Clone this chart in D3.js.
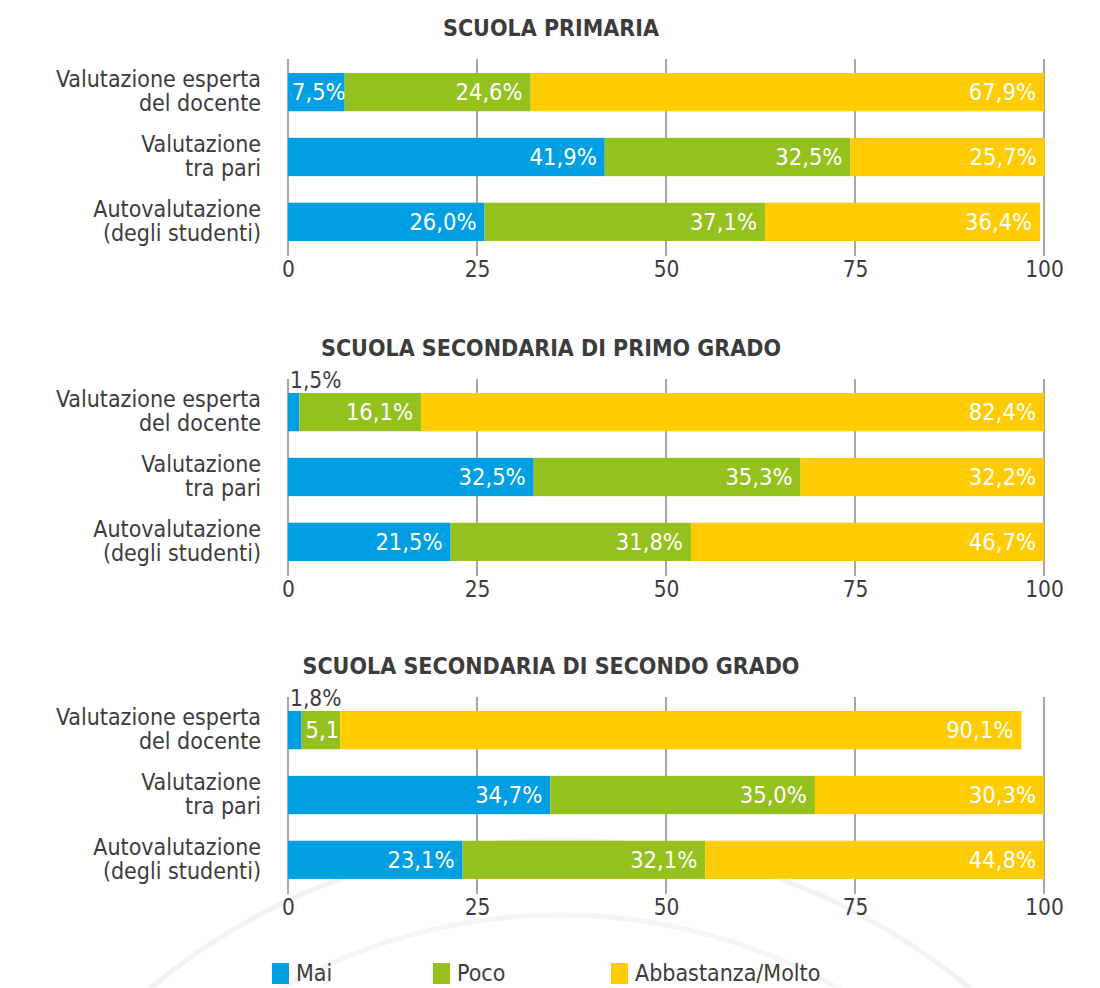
<!DOCTYPE html>
<html><head><meta charset="utf-8">
<script src="https://cdn.jsdelivr.net/npm/d3@7"></script>
<style>
body{margin:0;background:#fff;}
svg{display:block;}
text{font-family:"DejaVu Sans Condensed","DejaVu Sans",sans-serif;}
</style></head>
<body>
<svg id="chart" width="1100" height="988"></svg>
<script>
const panelTitles = ["SCUOLA PRIMARIA", "SCUOLA SECONDARIA DI PRIMO GRADO", "SCUOLA SECONDARIA DI SECONDO GRADO"];
const categories = [["Valutazione esperta","del docente"],["Valutazione","tra pari"],["Autovalutazione","(degli studenti)"]];
const seriesNames = ["Mai","Poco","Abbastanza/Molto"];
const colors = ["#009FE3","#95C11F","#FECC00"];
const maiValues   = [[7.5,41.9,26.0],[1.5,32.5,21.5],[1.8,34.7,23.1]];
const pocoValues  = [[24.6,32.5,37.1],[16.1,35.3,31.8],[5.1,35.0,32.1]];
const moltoValues = [[67.9,25.7,36.4],[82.4,32.2,46.7],[90.1,30.3,44.8]];
const tickValues = [0,25,50,75,100];

const svg = d3.select("#chart");
const textColor = "#3c3c3c";
const x = d3.scaleLinear().domain([0,100]).range([288,1044]);
const panelOffsets = [0,320,638];
const fmt = v => d3.format(".1f")(v).replace(".", ",") + "%";

// faint background arcs
const bg = svg.append("g");
bg.append("circle").attr("cx",560).attr("cy",1480).attr("r",640).attr("fill","none").attr("stroke","#f3f3f3").attr("stroke-width",5);
bg.append("circle").attr("cx",560).attr("cy",1480).attr("r",565).attr("fill","none").attr("stroke","#f5f5f5").attr("stroke-width",5);

panelTitles.forEach((title, p) => {
  const g = svg.append("g").attr("transform", `translate(0,${panelOffsets[p]})`);
  const y = d3.scaleBand().domain(d3.range(3)).range([60,254]).paddingInner(0.41).paddingOuter(0.2);

  g.append("text").attr("x",551).attr("y",36).attr("text-anchor","middle")
    .attr("font-size",23).attr("font-weight","bold").attr("fill",textColor).text(title);

  // gridlines
  g.selectAll("line.grid").data(tickValues).join("line")
    .attr("x1",d=>x(d)).attr("x2",d=>x(d)).attr("y1",59).attr("y2",256)
    .attr("stroke","#8a8a8a").attr("stroke-width",1.5);

  // axis tick labels
  const axis = d3.axisBottom(x).tickValues(tickValues).tickSize(0).tickPadding(0);
  const ax = g.append("g").attr("transform","translate(0,261)").call(axis);
  ax.select(".domain").remove();
  ax.selectAll("text").attr("font-size",22.5).attr("fill",textColor).attr("dy","0.71em")
    .style("font-family",'"DejaVu Sans Condensed","DejaVu Sans",sans-serif');

  // category labels
  categories.forEach((lines, i) => {
    const cy = y(i) + y.bandwidth()/2;
    const t = g.append("text").attr("x",261).attr("text-anchor","end").attr("font-size",23).attr("fill",textColor);
    t.append("tspan").attr("x",261).attr("y",cy-5).text(lines[0]);
    t.append("tspan").attr("x",261).attr("y",cy+19).text(lines[1]);
  });

  const rows = d3.range(3).map(i => [maiValues[p][i], pocoValues[p][i], moltoValues[p][i]]);
  rows.forEach((vals, i) => {
    let acc = 0;
    vals.forEach((v, s) => {
      const x0 = x(acc), x1 = x(acc + v);
      acc += v;
      const by = y(i), bh = y.bandwidth();
      g.append("rect").attr("x",x0).attr("y",by).attr("width",x1-x0).attr("height",bh).attr("fill",colors[s]);
      const w = x1 - x0;
      if (w < 20) {
        g.append("text").attr("x",x0+2).attr("y",by-5).attr("font-size",22.5).attr("fill",textColor).text(fmt(v));
      } else {
        const t = g.append("text").attr("y",by+bh/2+8).attr("font-size",23.5).attr("fill","#fff").text(fmt(v));
        const tw = t.node().getComputedTextLength();
        if (tw + 10 > w) t.attr("x",x0+4).attr("text-anchor","start");
        else t.attr("x",x1-8).attr("text-anchor","end");
      }
    });
  });
});

// legend
const legendX = [272, 433, 611];
seriesNames.forEach((name, s) => {
  svg.append("rect").attr("x",legendX[s]).attr("y",963).attr("width",17).attr("height",21).attr("fill",colors[s]);
  svg.append("text").attr("x",legendX[s]+24).attr("y",981).attr("font-size",23).attr("fill",textColor).text(name);
});
</script>
</body></html>
